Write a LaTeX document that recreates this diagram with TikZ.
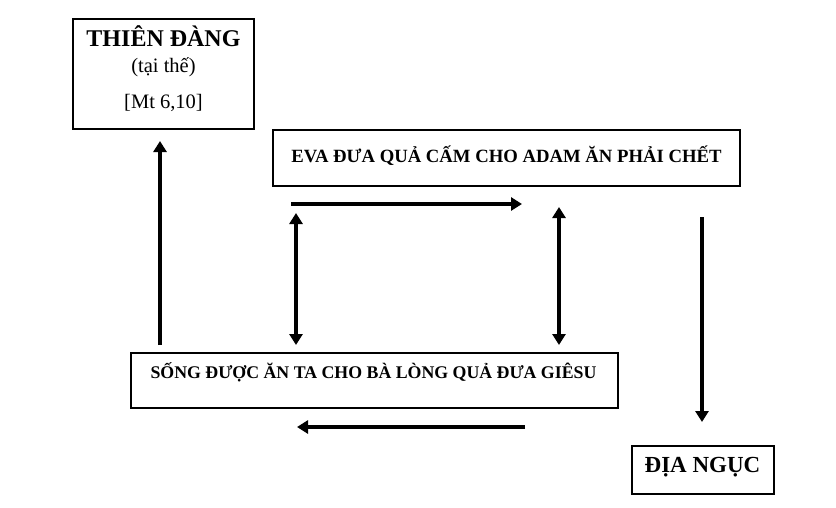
\documentclass[tikz,border=0pt]{standalone}
\usepackage{fontspec}
\setmainfont{Liberation Serif}
\usetikzlibrary{arrows.meta}

\tikzset{
    box/.style={draw, line width=1.2pt, rectangle, inner sep=0pt},
    flow/.style={line width=4pt, -{Triangle[length=11pt,width=13pt]}},
    twoway/.style={line width=4pt, {Triangle[length=11pt,width=13pt]}-{Triangle[length=11pt,width=13pt]}}
}

\begin{document}
\begin{tikzpicture}[x=1pt, y=-1pt]
        \useasboundingbox [fill=white] (0, 0) rectangle (836, 507);
        % Boxes
        \node [box, minimum width=181pt, minimum height=110pt] (thien) at (163.5, 74) {};
        \node [box, minimum width=467pt, minimum height=56pt] (eva) at (506.5, 158) {};
        \node [box, minimum width=487pt, minimum height=55pt] (song) at (374.5, 380.5) {};
        \node [box, minimum width=142pt, minimum height=48pt] (dia) at (703, 470) {};
        % Texts
        \node [anchor=base, font=\fontsize{24}{28}\selectfont\bfseries] (thienT) at (163.5, 46) {THIÊN ĐÀNG};
        \node [anchor=base, font=\fontsize{20.5}{24}\selectfont] (thienS) at (163.5, 72) {(tại thế)};
        \node [anchor=base, font=\fontsize{20.5}{24}\selectfont] (thienR) at (163.5, 108) {[Mt 6,10]};
        \node [anchor=base, font=\fontsize{18.7}{22}\selectfont\bfseries] (evaT) at (506.5, 162) {EVA ĐƯA QUẢ CẤM CHO ADAM ĂN PHẢI CHẾT};
        \node [anchor=base, font=\fontsize{17.8}{21}\selectfont\bfseries] (songT) at (373.5, 378) {SỐNG ĐƯỢC ĂN TA CHO BÀ LÒNG QUẢ ĐƯA GIÊSU};
        \node [anchor=base, font=\fontsize{23}{27}\selectfont\bfseries] (diaT) at (702.5, 472) {ĐỊA NGỤC};
        % Arrow ends
        \coordinate (upA) at (160, 345);
        \coordinate (upB) at (160, 141);
        \coordinate (topA) at (291, 204);
        \coordinate (topB) at (522, 204);
        \coordinate (leftA) at (296, 213);
        \coordinate (leftB) at (296, 345);
        \coordinate (rightA) at (559, 207);
        \coordinate (rightB) at (559, 345);
        \coordinate (downA) at (702, 217);
        \coordinate (downB) at (702, 422);
        \coordinate (botA) at (525, 427);
        \coordinate (botB) at (297, 427);
        % Arrows
        \draw [flow] (upA) -- (upB);
        \draw [flow] (topA) -- (topB);
        \draw [twoway] (leftA) -- (leftB);
        \draw [twoway] (rightA) -- (rightB);
        \draw [flow] (downA) -- (downB);
        \draw [flow] (botA) -- (botB);
    \end{tikzpicture}
\end{document}
